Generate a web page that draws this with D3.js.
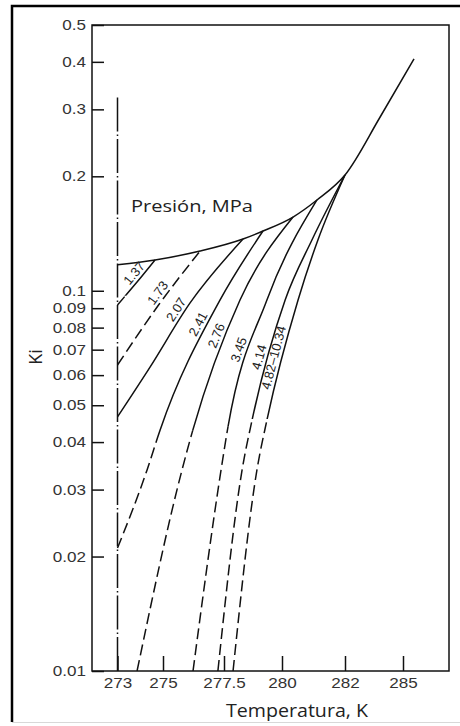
<!DOCTYPE html>
<html>
<head>
<meta charset="utf-8">
<script src="https://cdn.jsdelivr.net/npm/d3@7"></script>
<style>
  html, body { margin: 0; padding: 0; background: #fff; }
  svg { display: block; }
</style>
</head>
<body>
<script>
// Vapour–solid equilibrium ratio Ki against temperature, one curve per pressure

// x-axis ticks (K) and their labels
const tempTicks = [273, 275, 277.5, 280, 282, 285];
const tempTickLabels = ["273", "275", "277.5", "280", "282", "285"];

// y-axis (log) ticks and their labels
const kiTicks = [0.5, 0.4, 0.3, 0.2, 0.1, 0.09, 0.08, 0.07, 0.06, 0.05, 0.04, 0.03, 0.02, 0.01];
const kiTickLabels = ["0.5", "0.4", "0.3", "0.2", "0.1", "0.09", "0.08", "0.07", "0.06", "0.05", "0.04", "0.03", "0.02", "0.01"];

// pressure of each curve, MPa
const pressures = ["1.37", "1.73", "2.07", "2.41", "2.76", "3.45", "4.14", "4.82–10.34"];

// temperature (K) of each curve's points
const curveTemps = [
  [273.0, 273.84, 274.65],
  [273.0, 274.82, 276.52],
  [273.0, 274.43, 276.11, 278.32],
  [273.0, 274.30, 274.87, 277.34, 279.18],
  [273.86, 275.78, 276.19, 278.19, 280.35],
  [276.23, 277.38, 277.67, 279.35, 281.11],
  [277.25, 278.28, 278.71, 280.10, 280.95, 282.0],
  [277.89, 278.92, 279.35, 280.51, 281.14, 282.0]
];

// Ki of each curve's points
const curveKi = [
  [0.0918, 0.1051, 0.1205],
  [0.0638, 0.092, 0.1272],
  [0.0466, 0.063, 0.0929, 0.1368],
  [0.02106, 0.0338, 0.043, 0.0946, 0.1436],
  [0.01, 0.0338, 0.0423, 0.0946, 0.1563],
  [0.01, 0.0338, 0.0438, 0.0946, 0.1733],
  [0.01, 0.0338, 0.0457, 0.0946, 0.136, 0.2016],
  [0.01, 0.0338, 0.0457, 0.0946, 0.136, 0.2016]
];

// below this Ki a curve is extrapolated
const extrapolatedBelow = [0.097, 0.5, 0.01, 0.041, 0.043, 0.044, 0.046, 0.046];

// upper boundary where the curves end, continuing to high temperature
const boundaryTemps = [273.0, 274.65, 276.52, 278.32, 279.18, 280.35, 281.11, 282.0, 283.81, 285.57];
const boundaryKi = [0.117, 0.1205, 0.1272, 0.1368, 0.1436, 0.1563, 0.1733, 0.2016, 0.286, 0.407];

// ice point line
const icePointTemp = 273;
const icePointKi = [0.01, 0.323];

// ---------------------------------------------------------------------------

const W = 460, H = 726;
const margin = { top: 25, right: 11, bottom: 55, left: 92 };
const width = W - margin.left - margin.right;   // 357
const height = H - margin.top - margin.bottom;  // 646

const svg = d3.select("body").append("svg")
  .attr("width", W).attr("height", H);

// outer frame
svg.append("path")
  .attr("d", `M12,722 V6 H${W}`)
  .attr("fill", "none").attr("stroke", "#000").attr("stroke-width", 2.5);
svg.append("line")
  .attr("x1", 12).attr("x2", W).attr("y1", 722.5).attr("y2", 722.5)
  .attr("stroke", "#d8d8d8").attr("stroke-width", 1);

const g = svg.append("g").attr("transform", `translate(${margin.left},${margin.top})`);

// temperature axis is drawn with uneven spacing between its ticks
const x = d3.scaleLinear()
  .domain([271.88, 273, 275, 277.5, 280, 282, 285, 287.38])
  .range([0, 25.5, 71, 132, 190, 253, 311, 357]);

const y = d3.scaleLog().domain([0.01, 0.5]).range([height, 0]);

const tickFont = "'Liberation Sans', Arial, Helvetica, sans-serif";
const stretch = 1.22;

// y axis
const gy = g.append("g").call(
  d3.axisLeft(y)
    .tickValues(kiTicks)
    .tickFormat((d, i) => kiTickLabels[i])
    .tickSizeInner(-12).tickSizeOuter(0).tickPadding(6)
);
gy.select(".domain").remove();
gy.selectAll(".tick line").attr("stroke", "#111").attr("stroke-width", 1.5);
gy.selectAll(".tick text")
  .attr("font-family", tickFont).attr("font-size", 14).attr("fill", "#333")
  .attr("x", -6 / stretch).attr("transform", `scale(${stretch},1)`);

// x axis
const gx = g.append("g").attr("transform", `translate(0,${height})`).call(
  d3.axisBottom(x)
    .tickValues(tempTicks)
    .tickFormat((d, i) => tempTickLabels[i])
    .tickSizeInner(-15).tickSizeOuter(0).tickPadding(7)
);
gx.select(".domain").remove();
gx.selectAll(".tick line").attr("stroke", "#111").attr("stroke-width", 1.5);
gx.selectAll(".tick text")
  .attr("font-family", tickFont).attr("font-size", 14).attr("fill", "#333")
  .attr("transform", `scale(${stretch},1)`);

// plot frame
g.append("rect")
  .attr("x", 0).attr("y", 0).attr("width", width).attr("height", height)
  .attr("fill", "none").attr("stroke", "#111").attr("stroke-width", 1.5);

// clip to the plot area
const defs = svg.append("defs");
defs.append("clipPath").attr("id", "plotClip")
  .append("rect").attr("width", width).attr("height", height);

const plot = g.append("g").attr("clip-path", "url(#plotClip)");

const line = d3.line()
  .x(d => x(d[0]))
  .y(d => y(d[1]))
  .curve(d3.curveMonotoneX);

// ice point line (dash-dot)
plot.append("line")
  .attr("x1", x(icePointTemp)).attr("x2", x(icePointTemp))
  .attr("y1", y(icePointKi[0])).attr("y2", y(icePointKi[1]))
  .attr("stroke", "#111").attr("stroke-width", 1.5)
  .attr("stroke-dasharray", "34,3,1.5,3");

// boundary
plot.append("path")
  .datum(d3.zip(boundaryTemps, boundaryKi))
  .attr("d", line)
  .attr("fill", "none").attr("stroke", "#111").attr("stroke-width", 1.5);

// pressure curves: solid where measured, dashed where extrapolated
const curvePaths = [];
pressures.forEach((p, i) => {
  const pts = d3.zip(curveTemps[i], curveKi[i]);
  const yb = Math.max(0, Math.min(height, y(extrapolatedBelow[i])));

  defs.append("clipPath").attr("id", `solid${i}`)
    .append("rect").attr("x", 0).attr("y", 0).attr("width", width).attr("height", yb);
  defs.append("clipPath").attr("id", `dash${i}`)
    .append("rect").attr("x", 0).attr("y", yb).attr("width", width).attr("height", Math.max(0, height - yb));

  const solid = plot.append("path")
    .datum(pts).attr("d", line)
    .attr("clip-path", `url(#solid${i})`)
    .attr("fill", "none").attr("stroke", "#111").attr("stroke-width", 1.5);

  plot.append("path")
    .datum(pts).attr("d", line)
    .attr("clip-path", `url(#dash${i})`)
    .attr("fill", "none").attr("stroke", "#111").attr("stroke-width", 1.5)
    .attr("stroke-dasharray", "11,5");

  curvePaths.push(solid.node());
});

// pressure labels along each curve, on its upper-left side
const labelAnchorKi = [0.108, 0.096, 0.087, 0.080, 0.075, 0.069, 0.066, 0.066];
const labelOffset = 8;
pressures.forEach((p, i) => {
  const node = curvePaths[i];
  const L = node.getTotalLength();
  const ty = y(labelAnchorKi[i]);
  let best = 0, bestD = Infinity;
  for (let s = 0; s <= L; s += 0.5) {
    const pt = node.getPointAtLength(s);
    const dd = Math.abs(pt.y - ty);
    if (dd < bestD) { bestD = dd; best = s; }
  }
  const a = node.getPointAtLength(Math.max(0, best - 5));
  const b = node.getPointAtLength(Math.min(L, best + 5));
  const c = node.getPointAtLength(best);
  let dx = b.x - a.x, dy = b.y - a.y;
  const len = Math.hypot(dx, dy) || 1;
  dx /= len; dy /= len;
  // left-hand normal of an up-right direction points up-left
  const nx = dy, ny = -dx;
  const angle = Math.atan2(dy, dx) * 180 / Math.PI;
  const cx = c.x + nx * labelOffset, cy = c.y + ny * labelOffset;
  g.append("text")
    .attr("transform", `translate(${cx},${cy}) rotate(${angle})`)
    .attr("text-anchor", "middle")
    .attr("dy", "0.35em")
    .attr("font-family", tickFont).attr("font-size", 13).attr("fill", "#222")
    .text(p);
});

// titles
const titleFont = "'Open Sans', 'Noto Sans', sans-serif";
svg.append("text")
  .attr("x", 131).attr("y", 212)
  .attr("font-family", titleFont).attr("font-size", 17).attr("fill", "#222")
  .attr("textLength", 122).attr("lengthAdjust", "spacingAndGlyphs")
  .text("Presión, MPa");

svg.append("text")
  .attr("x", 226).attr("y", 717)
  .attr("font-family", titleFont).attr("font-size", 18.5).attr("fill", "#222")
  .attr("textLength", 142).attr("lengthAdjust", "spacingAndGlyphs")
  .text("Temperatura, K");

svg.append("text")
  .attr("transform", "translate(42,357) rotate(-90)")
  .attr("text-anchor", "middle")
  .attr("font-family", titleFont).attr("font-size", 18).attr("fill", "#222")
  .text("Ki");
</script>
</body>
</html>
